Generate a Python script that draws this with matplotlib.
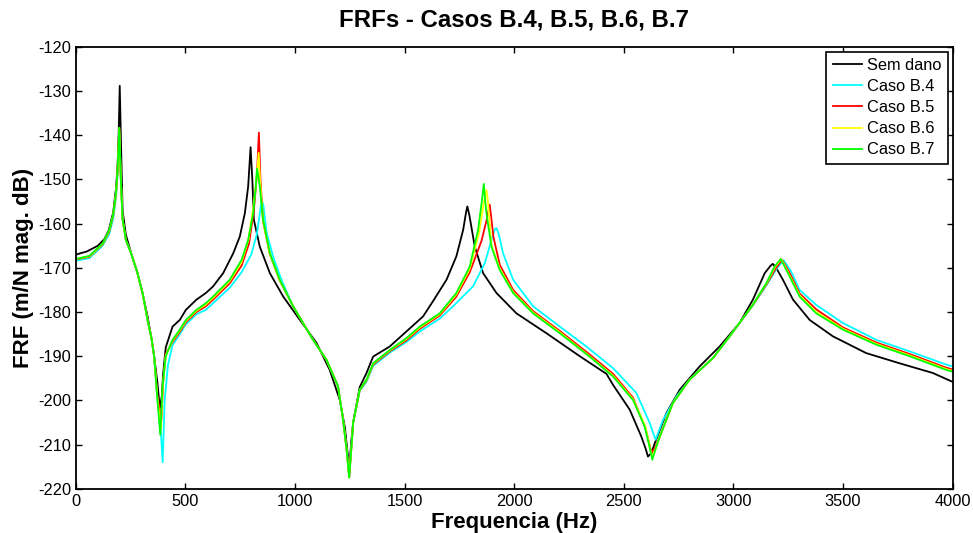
import matplotlib
matplotlib.use("Agg")
import matplotlib.pyplot as plt

plt.rcParams.update({
    "font.family": ["Liberation Sans", "DejaVu Sans"],
    "axes.unicode_minus": False,
    "xtick.direction": "in",
    "ytick.direction": "in",
    "xtick.top": True,
    "ytick.right": True,
})

# Sem dano (undamaged)
f_sem = [0, 50, 100, 130, 150, 170, 183, 190, 195, 200, 205, 213, 228, 251, 280, 304, 327, 345, 357,
         372, 383, 392, 398, 410, 441, 474, 502, 550, 593, 626, 672, 718, 748, 771, 786, 797, 805,
         812, 839, 885, 946, 1022, 1098, 1158, 1204, 1227, 1240, 1247, 1255, 1265, 1295, 1326, 1356,
         1432, 1508, 1584, 1630, 1691, 1736, 1767, 1780, 1786, 1795, 1820, 1858, 1919, 2010, 2147,
         2299, 2421, 2451, 2527, 2580, 2600, 2610, 2625, 2641, 2694, 2755, 2846, 2937, 3028, 3089,
         3143, 3170, 3180, 3195, 3226, 3272, 3348, 3454, 3606, 3758, 3910, 4000]
db_sem = [-167, -166.3, -165, -163.5, -161.5, -157.5, -152, -147, -140, -128.8, -140, -157, -162.5,
          -166.5, -171, -175.7, -181, -186, -190, -196, -201.8, -199, -194, -188, -183.3, -181.8,
          -179.5, -177.2, -175.7, -174.2, -171.2, -166.7, -162.9, -157.6, -151.6, -142.7, -150,
          -159.1, -165.2, -171.2, -176.5, -181.8, -187, -193.1, -199.9, -206, -212, -216.5, -210,
          -205, -197, -193.8, -190.1, -187.8, -184.4, -181, -177.5, -172.7, -167.4, -161.4, -157.5,
          -156.1, -158, -165.2, -171.2, -175.7, -180.3, -184.8, -190, -194, -196.5, -202.1, -208.2,
          -211, -212.7, -212, -209.7, -202.9, -197.6, -192.3, -187.8, -182.5, -177.2, -171.2, -169.5,
          -169.1, -170, -172.7, -177.2, -181.8, -185.5, -189.3, -191.6, -193.8, -195.8]

# Caso B.4
f_b4 = [0, 61, 122, 152, 170, 183, 190, 199, 206, 213, 228, 251, 280, 304, 327, 345, 357, 372, 385,
        396, 405, 420, 441, 474, 502, 550, 593, 626, 702, 756, 800, 825, 840, 848, 856, 870, 900, 940,
        991, 1082, 1143, 1196, 1219, 1235, 1247, 1258, 1265, 1295, 1326, 1356, 1432, 1508, 1569, 1660,
        1721, 1812, 1866, 1896, 1912, 1919, 1930, 1949, 1995, 2086, 2208, 2329, 2451, 2557, 2618,
        2645, 2679, 2740, 2800, 2907, 2983, 3089, 3150, 3200, 3229, 3260, 3302, 3378, 3500, 3652,
        3804, 3971, 4000]
db_b4 = [-168.4, -167.8, -165, -162.3, -159, -154, -149, -140, -151, -159, -163.7, -166.6, -171,
         -175.7, -181.8, -186, -190, -199.9, -205, -214, -200, -192, -187.5, -185, -182.8, -180.5,
         -179.5, -178, -174.5, -171, -167, -162.5, -157.5, -154.5, -156, -162, -167.5, -173, -178.7,
         -186.3, -190.8, -196.8, -204.4, -211, -217.2, -210, -205.1, -197.8, -195.8, -192.2, -189.2,
         -186.8, -184.4, -181.5, -178.7, -174.2, -168.9, -163.7, -161.2, -161, -162.5, -166.7, -172.7,
         -178.7, -183.3, -187.8, -192.7, -198.3, -205.1, -208.9, -204.4, -199.1, -195.3, -190.4,
         -185.5, -178.5, -174, -170, -168.3, -170.5, -175, -178.4, -182.5, -186.3, -188.9, -191.9,
         -192.3]

# Caso B.5
f_b5 = [0, 61, 122, 152, 170, 183, 190, 198, 205, 213, 228, 251, 280, 304, 327, 345, 357, 372, 382,
        390, 398, 410, 441, 474, 502, 550, 593, 626, 702, 756, 790, 812, 826, 835, 842, 854, 885, 930,
        991, 1082, 1143, 1196, 1219, 1235, 1247, 1258, 1265, 1295, 1326, 1356, 1432, 1508, 1569, 1660,
        1736, 1797, 1850, 1875, 1888, 1895, 1905, 1934, 1995, 2086, 2208, 2344, 2451, 2542, 2600,
        2626, 2645, 2664, 2724, 2800, 2907, 2983, 3089, 3150, 3195, 3222, 3255, 3302, 3378, 3500,
        3652, 3804, 3971, 4000]
db_b5 = [-168.1, -167.5, -164.7, -161.8, -158.3, -153.3, -148.3, -138.5, -150, -159, -163.7, -166.6,
         -171, -175.7, -181.8, -186, -190, -199, -202, -204.5, -196, -189.5, -186.8, -184.5, -182.3,
         -180, -178.7, -177.2, -173.5, -169.5, -164.5, -157, -149, -139.4, -150, -159.5, -166.9,
         -172.9, -178.7, -186.3, -190.8, -196.8, -204.4, -211, -217.4, -210, -205.1, -197.7, -195.5,
         -191.9, -188.9, -186.4, -183.8, -180.8, -176.5, -171, -164, -159, -155.7, -158.5, -163,
         -169.3, -175, -179.8, -184.3, -189.6, -194, -199.4, -206.5, -211.9, -210.5, -208.2, -200.6,
         -195.3, -190.4, -185.5, -178.4, -173.8, -170, -168.2, -171, -175.8, -179.4, -183.5, -186.9,
         -189.5, -192.6, -193]

# Caso B.6
f_b6 = [0, 61, 122, 152, 170, 183, 190, 198, 205, 213, 228, 251, 280, 304, 327, 345, 357, 372, 388,
        396, 410, 441, 474, 502, 550, 593, 626, 702, 756, 788, 810, 824, 834, 840, 854, 885, 930, 991,
        1082, 1143, 1196, 1219, 1235, 1247, 1258, 1265, 1295, 1326, 1356, 1432, 1508, 1569, 1660,
        1736, 1797, 1840, 1860, 1873, 1880, 1896, 1934, 1995, 2086, 2208, 2344, 2451, 2542, 2598,
        2628, 2645, 2664, 2724, 2800, 2907, 2983, 3089, 3150, 3190, 3218, 3250, 3302, 3378, 3500,
        3652, 3804, 3971, 4000]
db_b6 = [-168, -167.4, -164.6, -161.6, -158.1, -153.1, -148.1, -138.3, -150, -159, -163.7, -166.6,
         -171, -175.7, -181.8, -186, -190, -199.5, -206.5, -197, -189.8, -186.5, -184.2, -182,
         -179.7, -178.3, -176.8, -173, -168.7, -163.5, -156, -150, -144, -150, -159.3, -166.8,
         -172.8, -178.7, -186.3, -190.8, -196.8, -204.4, -211, -217.5, -210, -205.1, -197.6, -195.4,
         -191.7, -188.7, -186.1, -183.5, -180.5, -176, -170.2, -162, -155.5, -152.4, -155, -164.8,
         -170.2, -175.5, -180.1, -184.6, -190, -194.4, -199.7, -205.8, -212.8, -211, -208.2, -200.6,
         -195.3, -190.4, -185.5, -178.3, -173.6, -169.8, -168, -171.1, -176.2, -180, -183.8, -187.2,
         -189.8, -192.9, -193.3]

# Caso B.7
f_b7 = [0, 61, 122, 152, 170, 183, 190, 198, 205, 213, 228, 251, 280, 304, 327, 345, 357, 372, 385,
        395, 410, 441, 474, 502, 550, 593, 626, 702, 756, 786, 809, 821, 826, 832, 839, 854, 885, 930,
        991, 1082, 1143, 1196, 1219, 1235, 1247, 1258, 1265, 1295, 1326, 1356, 1432, 1508, 1569, 1660,
        1736, 1797, 1835, 1853, 1861, 1866, 1873, 1896, 1934, 1995, 2086, 2208, 2344, 2451, 2542,
        2595, 2615, 2630, 2645, 2664, 2724, 2800, 2907, 2983, 3089, 3150, 3188, 3216, 3249, 3302,
        3378, 3500, 3652, 3804, 3971, 4000]
db_b7 = [-168, -167.3, -164.5, -161.5, -158, -153, -148, -138.3, -150, -159, -163.7, -166.6, -171,
         -175.7, -181.8, -186, -190, -199.9, -207.8, -197, -190, -186.3, -184, -181.8, -179.5, -178,
         -176.5, -172.7, -168.2, -163.7, -157.6, -151.6, -147.6, -149, -151.6, -159.1, -166.7,
         -172.7, -178.7, -186.3, -190.8, -196.8, -204.4, -211, -217.5, -210, -205.1, -197.6, -195.3,
         -191.6, -188.6, -185.9, -183.3, -180.3, -175.7, -169.7, -161.4, -154.6, -151, -154, -157.6,
         -165.2, -170.5, -175.7, -180.3, -184.8, -190.1, -194.6, -199.9, -205.9, -210, -213.4, -211,
         -208.2, -200.6, -195.3, -190.4, -185.5, -178.3, -173.5, -169.7, -168, -171.2, -176.5,
         -180.3, -184, -187.4, -190, -193.1, -193.5]

series = [
    ("Sem dano", f_sem, db_sem, "black"),
    ("Caso B.4", f_b4, db_b4, "#00FFFF"),
    ("Caso B.5", f_b5, db_b5, "#FF0000"),
    ("Caso B.6", f_b6, db_b6, "#FFFF00"),
    ("Caso B.7", f_b7, db_b7, "#00FF00"),
]

fig = plt.figure(figsize=(9.73, 5.33), dpi=100)
ax = fig.add_axes([0.078, 0.083, 0.901, 0.829])

for name, f, db, c in series:
    ax.plot(f, db, color=c, linewidth=1.3, label=name)

ax.set_xlim(0, 4000)
ax.set_ylim(-220, -120)
ax.set_xticks(range(0, 4001, 500))
ax.set_yticks(range(-220, -119, 10))
ax.tick_params(labelsize=11.8, length=4, width=1)
for s in ax.spines.values():
    s.set_linewidth(1.3)

ax.set_xlabel("Frequencia (Hz)", fontsize=16, fontweight="bold", labelpad=2.5)
ax.set_ylabel("FRF (m/N mag. dB)", fontsize=16, fontweight="bold", labelpad=3)
ax.set_title("FRFs - Casos B.4, B.5, B.6, B.7", fontsize=17.3, fontweight="bold", pad=15)

leg = ax.legend(loc="upper right", fontsize=11.8, fancybox=False, framealpha=1,
                edgecolor="black", handlelength=1.8, borderpad=0.38, labelspacing=0.37,
                borderaxespad=0.3, handletextpad=0.3)
leg.get_frame().set_linewidth(1.2)

fig.savefig("out.png", dpi=100)
